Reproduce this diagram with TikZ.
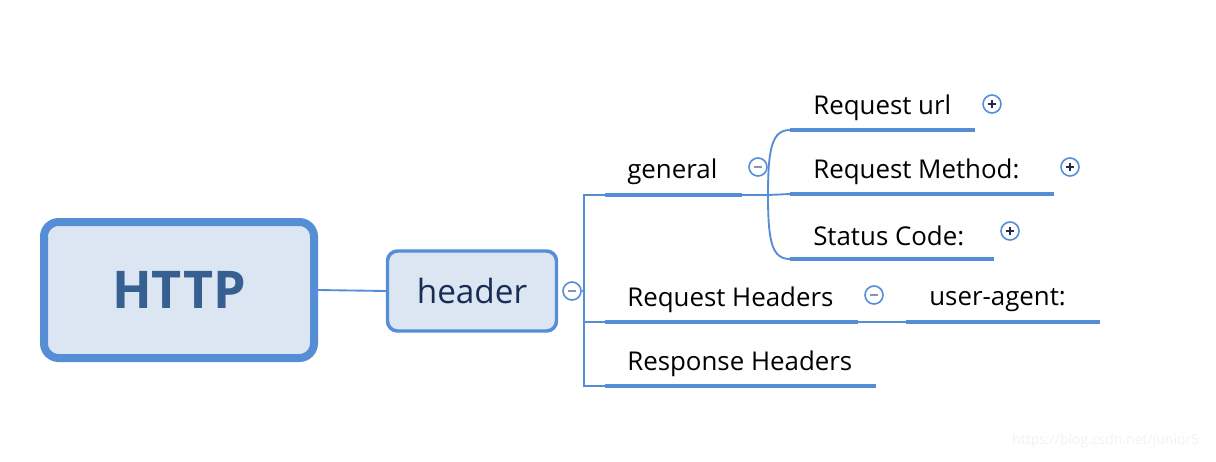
\documentclass[tikz,border=0pt]{standalone}
\usepackage{fontspec}
\setmainfont{Open Sans}
\definecolor{lc}{RGB}{85,142,213}
\definecolor{boxfill}{RGB}{220,230,242}
\definecolor{httptext}{RGB}{54,95,146}
\definecolor{hdrtext}{RGB}{23,45,85}
\definecolor{minuscol}{RGB}{130,150,190}
\definecolor{pluscol}{RGB}{30,45,80}
\definecolor{wm}{RGB}{243,243,243}
\begin{document}
\begin{tikzpicture}[x=0.75pt,y=-0.75pt,
  thinline/.style={draw=lc,line width=1.4pt},
  underline/.style={draw=lc,line width=3.4pt},
  topic/.style={anchor=west,inner sep=0pt,font=\fontsize{19.4}{23}\selectfont,text=black},
  circ/.style={circle,draw=lc,line width=1.2pt,fill=white,minimum size=13.5pt,inner sep=0pt},
  minusc/.style={circ,path picture={\draw[minuscol,line width=1.4pt] ([xshift=-3.2pt]path picture bounding box.center) -- ([xshift=3.2pt]path picture bounding box.center);}},
  plusc/.style={circ,path picture={\draw[pluscol,line width=1.2pt] ([xshift=-3.2pt]path picture bounding box.center) -- ([xshift=3.2pt]path picture bounding box.center) ([yshift=-3.2pt]path picture bounding box.center) -- ([yshift=3.2pt]path picture bounding box.center);}}
]
\useasboundingbox[fill=white] (0,0) rectangle (1216,461);

% main boxes
\node[draw=lc,line width=6pt,fill=boxfill,rounded corners=11pt,minimum width=202.5pt,minimum height=102pt,
      font=\fontsize{39}{44}\bfseries\selectfont,text=httptext] (http) at (179,290) {HTTP};
\node[draw=lc,line width=2.6pt,fill=boxfill,rounded corners=7.5pt,minimum width=126.75pt,minimum height=60pt,
      font=\fontsize{25}{30}\selectfont,text=hdrtext] (header) at (472,291) {header};
\draw[thinline] (http.east) -- (header.west);
\node[minusc] (ch) at (572,291) {};

% trunk coordinates
\coordinate (vm) at (584,291);
\coordinate (vt) at (584,195);
\coordinate (vh) at (584,322);
\coordinate (vb) at (584,386);

% level 2 topics
\node[topic] (general) at (627,172) {general};
\coordinate (g1) at (605,195); \coordinate (g2) at (742,195);
\node[topic] (reqh) at (627,300) {Request Headers};
\coordinate (h1) at (605,322); \coordinate (h2) at (858,322);
\node[topic] (resh) at (627,364) {Response Headers};
\coordinate (r1) at (605,386); \coordinate (r2) at (876,386);

\draw[thinline] (ch) -- (vm);
\draw[thinline] (g1) -- (vt) -- (vb) -- (r1);
\draw[thinline] (vh) -- (h1);
\draw[underline] (g1) -- (g2);
\draw[underline] (h1) -- (h2);
\draw[underline] (r1) -- (r2);

\node[minusc] (cg) at (758,167) {};
\node[minusc] (crh) at (874,295) {};

% general children
\coordinate (gb) at (768,195);
\node[topic] (url) at (813,108) {Request url};
\coordinate (u1) at (790,130); \coordinate (u2) at (975,130);
\node[topic] (meth) at (813,172) {Request Method:};
\coordinate (m1) at (790,194); \coordinate (m2) at (1054,194);
\node[topic] (stat) at (813,236) {Status Code:};
\coordinate (s1) at (790,259); \coordinate (s2) at (994,259);

\draw[thinline] (g2) -- (gb);
\draw[thinline] (gb) .. controls (768,148) and (772,130) .. (u1);
\draw[thinline] (gb) -- (m1);
\draw[thinline] (gb) .. controls (768,242) and (772,259) .. (s1);
\draw[underline] (u1) -- (u2);
\draw[underline] (m1) -- (m2);
\draw[underline] (s1) -- (s2);

\node[plusc] (pu) at (992,104) {};
\node[plusc] (pm) at (1070,167) {};
\node[plusc] (ps) at (1010,231) {};

% request headers child
\node[topic] (ua) at (929,300) {user-agent:};
\coordinate (a1) at (906,322); \coordinate (a2) at (1100,322);
\draw[thinline] (h2) -- (a1);
\draw[underline] (a1) -- (a2);

% watermark
\node[anchor=west,inner sep=0pt,font=\fontsize{10.5}{12}\selectfont,text=wm] (wmark) at (1012,441) {https://blog.csdn.net/junior5};
\end{tikzpicture}
\end{document}
